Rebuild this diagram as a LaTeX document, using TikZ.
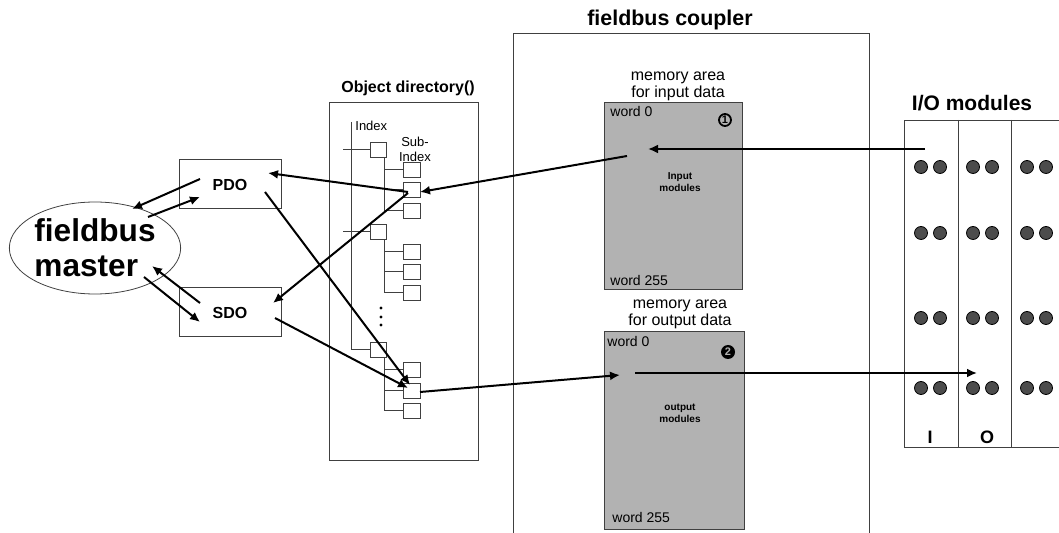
\documentclass[tikz,border=0pt]{standalone}
\usepackage{fontspec}
\setmainfont{Liberation Sans}
\usetikzlibrary{calc,shapes.geometric,arrows.meta}
\newcommand{\fs}[1]{\fontsize{#1}{#1}\selectfont}
\tikzset{
  box/.style={draw=black!75, line width=0.5pt, rectangle, inner sep=0pt},
  membox/.style={box, fill=black!30},
  idxbox/.style={box, fill=white, minimum width=8pt, minimum height=7.5pt},
  iodot/.style={circle, draw=black, fill=black!70, inner sep=0pt, minimum size=6.5pt, line width=0.4pt},
  tree/.style={draw=black!75, line width=0.5pt},
  link/.style={draw, line width=1pt, -{Latex[length=5pt,width=4.5pt]}},
}
\begin{document}
\begin{tikzpicture}[x=0.5pt,y=-0.5pt]
\useasboundingbox (0,0) rectangle (1059,533);

% master and services
\node[draw=black!75, ellipse, minimum width=83pt, minimum height=46pt, inner sep=0pt, align=left, font=\bfseries\fontsize{15.8}{17.5}\selectfont] (master) at (95,248) {fieldbus\\master};
\node[box, minimum width=51pt, minimum height=24.5pt, font=\bfseries\fs{8}] (pdo) at (230,184.5) {PDO};
\node[box, minimum width=51pt, minimum height=24.5pt, font=\bfseries\fs{8}] (sdo) at (230,312.5) {SDO};

% object directory
\node[box, minimum width=74.5pt, minimum height=179pt, anchor=north west] (objdir) at (329,102) {};
\node[anchor=base, font=\bfseries\fs{8}, inner sep=0pt] (objlbl) at (408,93) {Object directory()};
\node[anchor=base west, font=\fs{6.5}, inner sep=0pt] (idxlbl) at (355,131) {Index};
\node[align=center, font=\fontsize{6.5}{7.5}\selectfont, inner sep=0pt] (sublbl) at (415,149) {Sub-\\Index};
\node[idxbox] (idx1) at (378,150) {};
\node[idxbox] (idx2) at (378,232) {};
\node[idxbox] (idx3) at (378,350) {};
\draw[tree] (351,122) |- (idx3.west);
\draw[tree] (idx1.west) -- ++(-27,0);
\draw[tree] (idx2.west) -- ++(-27,0);
\foreach \g/\ya/\yb/\yc in {1/170/190/211, 2/252/272/293, 3/370/391/411} {
  \node[idxbox, minimum width=8.5pt] (sub\g-a) at (412,\ya) {};
  \node[idxbox, minimum width=8.5pt] (sub\g-b) at (412,\yb) {};
  \node[idxbox, minimum width=8.5pt] (sub\g-c) at (412,\yc) {};
  \draw[tree] (idx\g.south east) ++(-2,0) |- (sub\g-c.west);
  \draw[tree] (sub\g-a.west) -- ++(-19.5,0);
  \draw[tree] (sub\g-b.west) -- ++(-19.5,0);
}
\foreach \y in {308,317,325}
  \fill (381,\y) circle (0.8pt);

% fieldbus coupler
\node[box, minimum width=178pt, minimum height=300pt, anchor=north] (coupler) at (691,33) {};
\node[anchor=base, font=\bfseries\fs{10.7}, inner sep=0pt] (couplbl) at (670,26) {fieldbus coupler};
\node[membox, minimum width=69pt, minimum height=93.5pt] (memin) at (673,196.5) {};
\node[membox, minimum width=70pt, minimum height=98.5pt] (memout) at (674,430.5) {};
\node[anchor=south, align=center, font=\fontsize{8}{8.5}\selectfont, inner sep=1pt] (meminlbl) at (678,103) {memory area\\for input data};
\node[anchor=south, align=center, font=\fontsize{8}{8.5}\selectfont, inner sep=1.5pt] (memoutlbl) at (680,332) {memory area\\for output data};
\node[anchor=base west, font=\fs{7}, inner sep=0pt] (inw0) at (610,117) {word 0};
\node[anchor=base west, font=\fs{7}, inner sep=0pt] (inw255) at (610,286) {word 255};
\node[anchor=base west, font=\fs{7}, inner sep=0pt] (outw0) at (607,347) {word 0};
\node[anchor=base west, font=\fs{7}, inner sep=0pt] (outw255) at (612,523) {word 255};
\node[align=center, font=\bfseries\fontsize{5}{6}\selectfont] (inmod) at (680,182) {Input\\modules};
\node[align=center, font=\bfseries\fontsize{5}{6}\selectfont] (outmod) at (680,413) {output\\modules};
\node[circle, draw, line width=0.9pt, inner sep=0pt, minimum size=6pt, font=\bfseries\fs{5.5}] (num1) at (725,120) {1};
\node[circle, fill=black, text=black!30, inner sep=0pt, minimum size=7pt, font=\bfseries\fs{5.5}] (num2) at (728,352) {2};

% I/O modules
\node[box, minimum width=100pt, minimum height=163.5pt, anchor=north west] (iomod) at (904,120) {};
\node[anchor=base, font=\bfseries\fs{10.5}, inner sep=0pt] (iolbl) at (972,111) {I/O modules};
\draw[tree] (958,120) -- (958,447);
\draw[tree] (1011,120) -- (1011,447);
\foreach \c/\x in {1/921,2/973,3/1027}
  \foreach \r/\y in {1/167,2/233,3/318,4/388} {
    \node[iodot] (dot\c\r) at (\x,\y) {};
    \node[iodot] (dot\c\r b) at (\x+19,\y) {};
  }
\node[font=\bfseries\fs{9}] (ilbl) at (930,437) {I};
\node[font=\bfseries\fs{9}] (olbl) at (987,437) {O};

% data flow
\path[link] ($(pdo)+(-30,-5.5)$) -- ($(master)+(37,-39)$);
\path[link] ($(master)+(53,-31)$) -- ($(pdo)+(-30,12.5)$);
\path[link] ($(sdo)+(-30,-9.5)$) -- ($(master)+(57,18)$);
\path[link] ($(master)+(49,29)$) -- ($(sdo)+(-30,9.5)$);
\path[link] ($(sub1-b)+(-4,2)$) -- ($(pdo)+(38,-11.5)$);
\path[link] ($(sub1-b)+(-4,3)$) -- ($(sdo)+(43,-9.5)$);
\path[link] ($(pdo)+(35,7.5)$) -- ($(sub3-b)+(-2,-6)$);
\path[link] ($(sdo)+(45,5.5)$) -- ($(sub3-b)+(-4,-3)$);
\path[link] ($(sub3-b)+(8,1)$) -- ($(memout)+(-54,-55.5)$);
\path[link] ($(memin)+(-46,-40.5)$) -- ($(sub1-b)+(8,2)$);
\path[link] ($(dot11)+(4,-18)$) -- ($(memin)+(-25,-47.5)$);
\path[link] ($(memout)+(-39,-57.5)$) -- ($(dot24)+(4,-15)$);
\end{tikzpicture}
\end{document}
